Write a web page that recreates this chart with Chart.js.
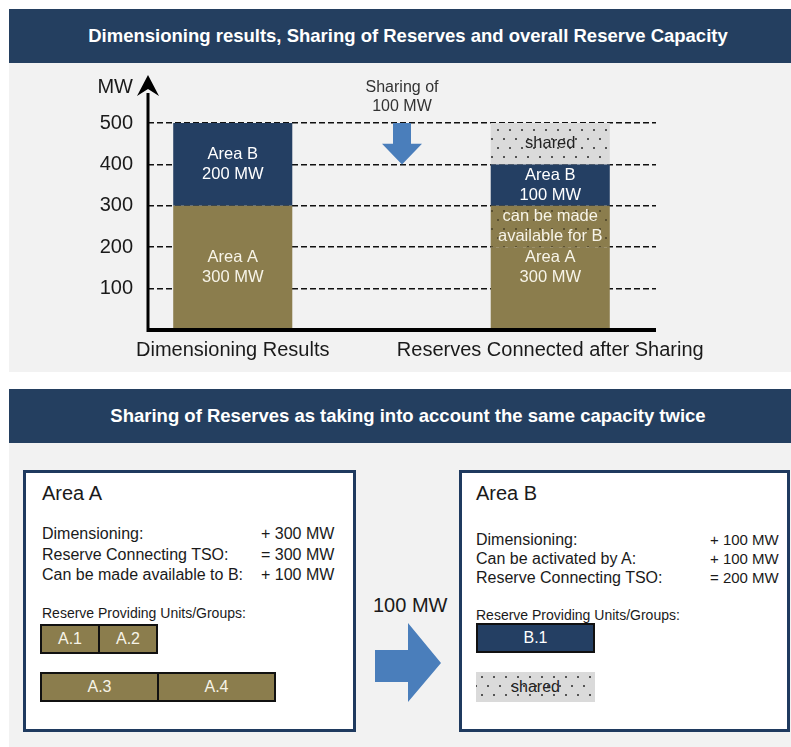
<!DOCTYPE html>
<html lang="en">

<head>
  <meta charset="UTF-8">
  <title>Sharing of Reserves</title>
  <script src="https://cdn.jsdelivr.net/npm/chart.js@4.4.0/dist/chart.umd.min.js"></script>
  <style>
    body { margin: 0; width: 791px; height: 747px; position: relative; overflow: hidden; background: #fff;
      font-family: "Liberation Sans", Arial, sans-serif; color: #1a1a1a; }
    .head { position: absolute; left: 9px; width: 782px; height: 54px; background: #243f60; color: #fff;
      font-weight: bold; font-size: 18.5px; line-height: 54px; text-align: center; padding-left: 16px; box-sizing: border-box; }
    .panel { position: absolute; left: 9px; width: 782px; background: #f2f2f2; }
    #chart { position: absolute; left: 9px; top: 63px; }
    .box { position: absolute; top: 470px; height: 262px; border: 3px solid #1f3a5f; background: #fff; box-sizing: border-box; }
    .box .title { position: absolute; top: 8px; font-size: 20px; line-height: 24px; }
    .box .row { position: absolute; font-size: 16px; white-space: nowrap; }
    .box .sub { position: absolute; font-size: 14px; line-height: 18px; white-space: nowrap; }
    .units { position: absolute; display: flex; height: 30px; }
    .unit { height: 30px; box-sizing: border-box; border: 2px solid #111; margin-left: -2px; color: #f7f4e8;
      font-size: 16px; line-height: 26px; text-align: center; }
    .unit:first-child { margin-left: 0; }
    .unit.a { background: #8b7d4d; }
    .unit.b { background: #243f63; color: #fff; }
    .unit.shared { border: none; color: #222; line-height: 30px; background-color: #dadada;
      background-image: radial-gradient(circle, #555 0.9px, transparent 1.3px), radial-gradient(circle, #555 0.9px, transparent 1.3px);
      background-size: 12px 18px; background-position: 0 -4px, 6px 5px; }
    #moveLabel { position: absolute; left: 373px; top: 593px; font-size: 20px; line-height: 24px; }
    #moveArrow { position: absolute; left: 375px; top: 623px; }
  </style>
</head>

<body>
  <div class="head" style="top:9px">Dimensioning results, Sharing of Reserves and overall Reserve Capacity</div>
  <div class="panel" style="top:63px;height:309px"></div>
  <canvas id="chart" width="782" height="309"></canvas>

  <div class="head" style="top:389px">Sharing of Reserves as taking into account the same capacity twice</div>
  <div class="panel" style="top:443px;height:304px"></div>

  <div class="box" id="boxA" style="left:23px;width:333px"></div>
  <div id="moveLabel">100 MW</div>
  <svg id="moveArrow" width="66" height="79">
    <polygon points="0,27 33,27 33,0 66,40 33,79 33,59 0,59" fill="#4a7ebb" />
  </svg>
  <div class="box" id="boxB" style="left:459px;width:331px"></div>
</body>

<script>
  // chart values (MW)
  const categories = ['Dimensioning Results', 'Reserves Connected after Sharing'];
  const areaA = [300, 200];
  const areaAForB = [0, 100];
  const areaB = [200, 100];
  const sharedMw = [0, 100];
  const yMax = 500;
  const yStep = 100;

  const textA = [['Area A', '300 MW'], ['Area A', '300 MW']];
  const textAForB = [null, ['can be made', 'available for B']];
  const textB = [['Area B', '200 MW'], ['Area B', '100 MW']];
  const textShared = [null, ['shared']];
  const sharingNote = ['Sharing of', '100 MW'];

  // lower part
  const linesA = [['Dimensioning:', '+ 300 MW'], ['Reserve Connecting TSO:', '= 300 MW'], ['Can be made available to B:', '+ 100 MW']];
  const linesB = [['Dimensioning:', '+ 100 MW'], ['Can be activated by A:', '+ 100 MW'], ['Reserve Connecting TSO:', '= 200 MW']];
  const unitsA = [[['A.1', 50], ['A.2', 50]], [['A.3', 100], ['A.4', 100]]];
  const unitsB = [[['B.1', 100]], [['shared', 100]]];

  const olive = '#8b7d4d';
  const navy = '#243f63';
  const FONT = '"Liberation Sans", Arial, sans-serif';
  Chart.defaults.font.family = FONT;

  function dots(bg, dot) {
    const t = document.createElement('canvas');
    t.width = 12; t.height = 18;
    const c = t.getContext('2d');
    c.fillStyle = bg; c.fillRect(0, 0, 12, 18);
    c.fillStyle = dot;
    c.fillRect(2, 3, 2, 2);
    c.fillRect(8, 12, 2, 2);
    return c.createPattern(t, 'repeat');
  }

  function drawLines(c, lines, x, yc, color) {
    if (!lines) return;
    c.fillStyle = color;
    lines.forEach((t, k) => c.fillText(t, x, yc + (k - (lines.length - 1) / 2) * 20));
  }

  const decor = {
    id: 'decor',
    afterLayout(chart) {
      // categories sit off-centre in the original slide
      const x = chart.scales.x;
      x.left = 65; x.right = 700; x.width = 635;
      x.configure();
    },
    afterDatasetsDraw(chart) {
      const c = chart.ctx;
      const ys = chart.scales.y;
      const area = chart.chartArea;
      const y0 = ys.getPixelForValue(0);
      c.save();
      // base line
      c.strokeStyle = '#000';
      c.lineWidth = 4;
      c.beginPath();
      c.moveTo(area.left, y0);
      c.lineTo(area.right, y0);
      c.stroke();
      // y axis with arrow head
      const ax = area.left;
      c.lineWidth = 3;
      c.beginPath();
      c.moveTo(ax, y0 + 2);
      c.lineTo(ax, 30);
      c.stroke();
      c.fillStyle = '#000';
      c.beginPath();
      c.moveTo(ax, 12);
      c.lineTo(ax + 11, 33);
      c.lineTo(ax, 26);
      c.lineTo(ax - 11, 33);
      c.closePath();
      c.fill();

      c.font = '20px ' + FONT;
      c.textAlign = 'right';
      c.textBaseline = 'middle';
      c.fillStyle = '#1a1a1a';
      c.fillText('MW', ax - 15, 24);

      // sharing arrow
      const sx = 393;
      const yTop = ys.getPixelForValue(yMax);
      const yTip = ys.getPixelForValue(yMax - yStep);
      const yHead = (yTop + yTip) / 2;
      c.fillStyle = '#4a7ebb';
      c.beginPath();
      c.moveTo(sx - 9, yTop);
      c.lineTo(sx + 9, yTop);
      c.lineTo(sx + 9, yHead);
      c.lineTo(sx + 20, yHead);
      c.lineTo(sx, yTip);
      c.lineTo(sx - 20, yHead);
      c.lineTo(sx - 9, yHead);
      c.closePath();
      c.fill();
      c.font = '16px ' + FONT;
      c.textAlign = 'center';
      c.fillStyle = '#333';
      c.fillText(sharingNote[0], sx, 25);
      c.fillText(sharingNote[1], sx, 44);

      // labels inside the bars
      c.font = '16.5px ' + FONT;
      const mA = chart.getDatasetMeta(0).data;
      const mAB = chart.getDatasetMeta(1).data;
      const mB = chart.getDatasetMeta(2).data;
      const mS = chart.getDatasetMeta(3).data;
      categories.forEach((_, j) => {
        const bx = mA[j].x;
        drawLines(c, textA[j], bx, ys.getPixelForValue((areaA[j] + areaAForB[j]) / 2), '#f7f4e8');
        if (areaAForB[j]) drawLines(c, textAForB[j], bx, (mAB[j].y + mAB[j].base) / 2, '#f7f4e8');
        if (areaB[j]) drawLines(c, textB[j], bx, (mB[j].y + mB[j].base) / 2, '#ffffff');
        if (sharedMw[j]) drawLines(c, textShared[j], bx, (mS[j].y + mS[j].base) / 2, '#222');
      });
      c.restore();
    }
  };

  const ctx = document.getElementById('chart').getContext('2d');
  new Chart(ctx, {
    type: 'bar',
    data: {
      labels: categories,
      datasets: [
        { label: 'Area A', data: areaA, backgroundColor: olive },
        { label: 'Area A, can be made available for B', data: areaAForB, backgroundColor: dots(olive, '#5a5030') },
        { label: 'Area B', data: areaB, backgroundColor: navy },
        { label: 'shared', data: sharedMw, backgroundColor: dots('#dadada', '#555') }
      ]
    },
    options: {
      responsive: false,
      animation: false,
      datasets: { bar: { barPercentage: 0.375, categoryPercentage: 1 } },
      layout: { padding: { top: 60, right: 135, bottom: 0, left: 0 } },
      plugins: { legend: { display: false }, tooltip: { enabled: false } },
      scales: {
        x: {
          stacked: true,
          grid: { display: false, drawTicks: false },
          border: { display: false },
          ticks: { color: '#1a1a1a', font: { size: 20 }, padding: 8, maxRotation: 0, autoSkip: false },
          afterFit(s) { s.height = 42; }
        },
        y: {
          stacked: true,
          min: 0,
          max: yMax,
          ticks: {
            stepSize: yStep, color: '#1a1a1a', font: { size: 20 }, padding: 15,
            callback: v => v === 0 ? '' : v
          },
          grid: { color: g => g.tick && g.tick.value === 0 ? 'transparent' : '#111', lineWidth: 1.5, drawTicks: false },
          border: { display: false, dash: [6, 3] },
          afterFit(s) { s.width = 139; }
        }
      }
    },
    plugins: [decor]
  });

  // lower boxes
  function fillBox(id, title, lines, rowTop, rowGap, valueLeft, valueSize, subTop, units, unitTops, kind) {
    const box = document.getElementById(id);
    const left = id === 'boxA' ? 16 : 14;
    let html = '<div class="title" style="left:' + left + 'px">' + title + '</div>';
    lines.forEach((l, k) => {
      const top = rowTop + k * rowGap;
      html += '<div class="row" style="left:' + left + 'px;top:' + top + 'px;line-height:' + rowGap + 'px">' + l[0] + '</div>';
      html += '<div class="row" style="left:' + valueLeft + 'px;top:' + top + 'px;line-height:' + rowGap + 'px;font-size:' + valueSize + 'px">' + l[1] + '</div>';
    });
    html += '<div class="sub" style="left:' + left + 'px;top:' + subTop + 'px">Reserve Providing Units/Groups:</div>';
    units.forEach((row, r) => {
      html += '<div class="units" style="left:14px;top:' + unitTops[r] + 'px">';
      row.forEach(u => {
        const cls = u[0] === 'shared' ? 'shared' : kind;
        html += '<div class="unit ' + cls + '" style="width:' + Math.round(u[1] * 1.19) + 'px">' + u[0] + '</div>';
      });
      html += '</div>';
    });
    box.innerHTML = html;
  }
  fillBox('boxA', 'Area A', linesA, 51, 20.5, 235, 16, 131, unitsA, [151, 199], 'a');
  fillBox('boxB', 'Area B', linesB, 57, 19, 248, 15, 133, unitsB, [150, 199], 'b');
</script>

</html>
